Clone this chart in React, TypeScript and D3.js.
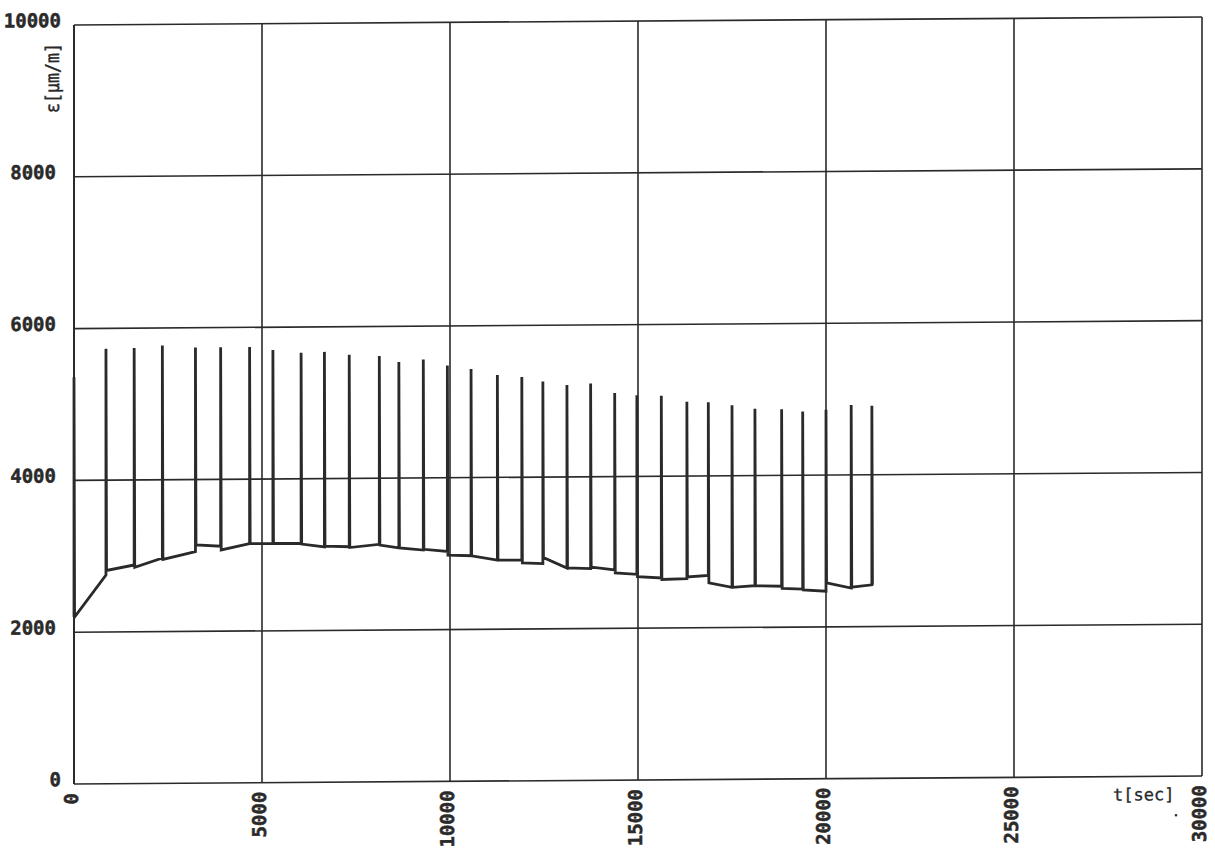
import React from "react";
import * as d3 from "d3";

// time of each load cycle [sec]
const cycleTimes = [0, 850, 1600, 2350, 3230, 3900, 4670, 5290, 6040, 6660, 7320, 8120, 8640, 9290, 9930, 10560, 11260, 11910, 12470, 13110, 13740, 14380, 14970, 15620, 16300, 16870, 17500, 18110, 18820, 19380, 20000, 20670, 21220];
// peak strain of each cycle [µm/m]
const peakStrain = [5360, 5730, 5740, 5770, 5740, 5740, 5740, 5700, 5660, 5670, 5630, 5610, 5530, 5560, 5480, 5430, 5350, 5320, 5260, 5210, 5230, 5100, 5070, 5060, 4980, 4970, 4930, 4880, 4870, 4840, 4860, 4920, 4910];
// base strain just before each cycle
const baseBefore = [2200, 2750, 2880, 2970, 3050, 3120, 3150, 3150, 3150, 3100, 3100, 3130, 3080, 3050, 3030, 2970, 2910, 2910, 2860, 2800, 2790, 2770, 2710, 2660, 2650, 2690, 2530, 2550, 2540, 2500, 2470, 2510, 2550];
// base strain just after each cycle
const baseAfter = [2200, 2810, 2850, 2950, 3140, 3070, 3150, 3150, 3140, 3110, 3090, 3120, 3080, 3060, 2980, 2970, 2910, 2870, 2940, 2800, 2810, 2730, 2680, 2640, 2670, 2590, 2530, 2550, 2510, 2490, 2580, 2520, 2550];

const xTicks = [0, 5000, 10000, 15000, 20000, 25000, 30000];
const yTicks = [0, 2000, 4000, 6000, 8000, 10000];
const xTickLabels = ["0", "5000", "10000", "15000", "20000", "25000", "30000"];
const yTickLabels = ["0", "2000", "4000", "6000", "8000", "10000"];

export default function App() {
  const left = 74, right = 1202, top = 25, bottom = 784;
  const x = d3.scaleLinear().domain([0, 30000]).range([left, right]);
  const y = d3.scaleLinear().domain([0, 10000]).range([bottom, top]);

  const pts: [number, number][] = [];
  cycleTimes.forEach((t, i) => {
    pts.push([t, baseBefore[i]]);
    pts.push([t, peakStrain[i]]);
    pts.push([t + 15, baseAfter[i]]);
  });
  const line = d3.line<[number, number]>().x(d => x(d[0])).y(d => y(d[1]));

  const skew = `translate(${left},0) skewY(-0.405) translate(${-left},0)`;
  const font = "'DejaVu Sans Mono', monospace";
  const ink = "#2a2a2a";

  return (
    <svg width={1215} height={851} style={{ position: "absolute", left: 0, top: 0, background: "#fff" }}>
      <g transform={skew}>
        {yTicks.map(v => (
          <line key={"h" + v} x1={x(0)} x2={x(30000)} y1={y(v)} y2={y(v)} stroke={ink} strokeWidth={1.6} />
        ))}
        {xTicks.map(v => (
          <line key={"v" + v} x1={x(v)} x2={x(v)} y1={y(0)} y2={y(10000)} stroke={ink} strokeWidth={v === 0 ? 2 : 1.6} />
        ))}
        <path d={line(pts) || ""} fill="none" stroke={ink} strokeWidth={2.8} strokeLinejoin="miter" />
        {yTicks.map((v, i) => (
          <text key={"yl" + v} x={v === 10000 || v === 0 ? 61 : 56} y={y(v) + 2} textAnchor="end"
            fontFamily={font} fontWeight="bold" fontSize={19} fill={ink} stroke={ink} strokeWidth={0.5}>{yTickLabels[i]}</text>
        ))}
        {xTicks.map((v, i) => (
          <text key={"xl" + v} transform={`translate(${x(v) + 4},${y(0) + 9}) rotate(-90)`} textAnchor="end"
            fontFamily={font} fontWeight="bold" fontSize={19} fill={ink} stroke={ink} strokeWidth={0.5}>{xTickLabels[i]}</text>
        ))}
        <text transform={`translate(${59},${43}) rotate(-90)`} textAnchor="end"
          fontFamily={font} fontSize={19} fill={ink} stroke={ink} strokeWidth={0.4}
          textLength={70} lengthAdjust="spacingAndGlyphs">ε[μm/m]</text>
        <text x={1113} y={y(0) + 24} fontFamily={font} fontSize={17} fill={ink} stroke={ink} strokeWidth={0.3}>t[sec]</text>
        <circle cx={1176} cy={y(0) + 39} r={1.3} fill={ink} />
      </g>
    </svg>
  );
}
